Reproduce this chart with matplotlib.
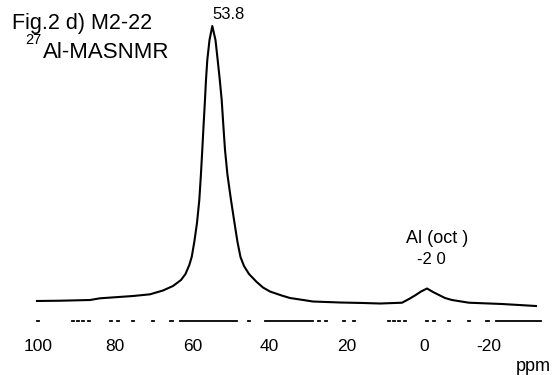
import matplotlib
matplotlib.use("Agg")
import matplotlib.pyplot as plt

plt.rcParams['font.family'] = ['Liberation Sans', 'DejaVu Sans']
plt.rcParams['lines.scale_dashes'] = False

# ---- data (ppm, relative intensity) ----
ppm = [100.26, 94.30, 86.53, 83.94, 75.39, 70.98, 67.62, 65.03, 62.95, 61.79,
       60.80, 60.18, 59.51, 58.81, 58.21, 57.80, 57.44, 57.10, 56.74, 56.48,
       56.14, 55.57, 54.84,
       54.02, 53.45, 52.90, 52.41, 51.99, 51.55, 50.91, 50.00, 49.09, 48.32,
       47.54, 46.63, 45.34, 43.34, 41.71, 39.90, 36.87, 34.72, 32.12, 28.76,
       21.76, 15.80, 11.40, 5.70, 3.89, 2.15, 0.78, -0.78, -2.33, -3.89,
       -5.44, -7.25, -11.66, -20.21, -29.02]
intensity = [-0.36, -0.26, 0.00, 0.62, 1.46, 2.08, 3.47, 5.11, 7.30, 9.49,
             12.77, 15.69, 21.17, 28.10, 36.50, 45.62, 54.74, 63.87, 72.99, 80.29,
             87.59, 94.89, 100.00,
             94.89, 87.59, 80.29, 72.99, 63.87, 54.74, 45.62, 36.50, 28.10, 21.17,
             15.69, 12.41, 9.49, 6.57, 4.56, 3.10, 1.64, 0.73, 0.18, -0.55,
             -0.91, -1.09, -1.28, -0.99, 0.36, 1.82, 3.10, 4.20, 2.92, 1.82,
             0.73, 0.00, -0.99, -1.46, -2.19]

tick_values = [100, 80, 60, 40, 20, 0, -20]
tick_labels = ['100', '80', '60', '40', '20', '0', '-20']

title_line1 = 'Fig.2 d) M2-22'
title_sup = '27'
title_line2 = 'Al-MASNMR'
peak_main_label = '53.8'
peak_oct_name = 'Al (oct )'
peak_oct_label = '-2 0'
unit_label = 'ppm'

# ---- figure ----
W, H, DPI = 559, 375, 100
fig = plt.figure(figsize=(W / DPI, H / DPI), dpi=DPI)
ax = fig.add_axes([0, 0, 1, 1])
ax.patch.set_alpha(0)

ax.plot(ppm, intensity, color='black', lw=1.5, solid_joinstyle='round')

ax.set_xlim(109.84, -34.97)
ax.set_ylim(-27.37, 109.49)

for s in ['top', 'left', 'right']:
    ax.spines[s].set_visible(False)
sp = ax.spines['bottom']
sp.set_position(('data', -7.66))
sp.set_bounds(100.26, -30.3)
px2pt = 72.0 / DPI
axis_dash_px = [2, 33, 2, 3, 2, 3, 2, 4, 2, 20, 2, 5, 2, 13, 2, 18, 2, 16, 3, 7,
                57, 11, 2, 15, 48, 5, 2, 5, 2, 16, 2, 8, 2, 7, 52, 8, 2, 17,
                41, 19, 2, 14, 2, 20, 2, 4]
sp.set_linestyle((0, [v * px2pt for v in axis_dash_px]))
sp.set_linewidth(1.3)

ax.set_yticks([])
ax.set_xticks(tick_values)
ax.set_xticklabels(tick_labels, fontsize=12.5)
ax.tick_params(axis='x', length=0, pad=13)
ax.get_xticklabels()[-1].set_horizontalalignment('right')

def fx(px):
    return px / W

def fy(py):
    return 1 - py / H

ax.text(fx(12), fy(29), title_line1, transform=ax.transAxes, fontsize=15.5,
        ha='left', va='baseline')
ax.text(fx(25), fy(44), title_sup, transform=ax.transAxes, fontsize=10.5,
        ha='left', va='baseline')
ax.text(fx(43), fy(58.5), title_line2, transform=ax.transAxes, fontsize=16,
        ha='left', va='baseline')
ax.text(fx(229), fy(19), peak_main_label, transform=ax.transAxes, fontsize=12,
        ha='center', va='baseline')
ax.text(fx(437), fy(243), peak_oct_name, transform=ax.transAxes, fontsize=13,
        ha='center', va='baseline')
ax.text(fx(431), fy(264), peak_oct_label, transform=ax.transAxes, fontsize=12,
        ha='center', va='baseline')
ax.text(fx(533), fy(371), unit_label, transform=ax.transAxes, fontsize=13,
        ha='center', va='baseline')

fig.savefig('out.png', dpi=DPI)
